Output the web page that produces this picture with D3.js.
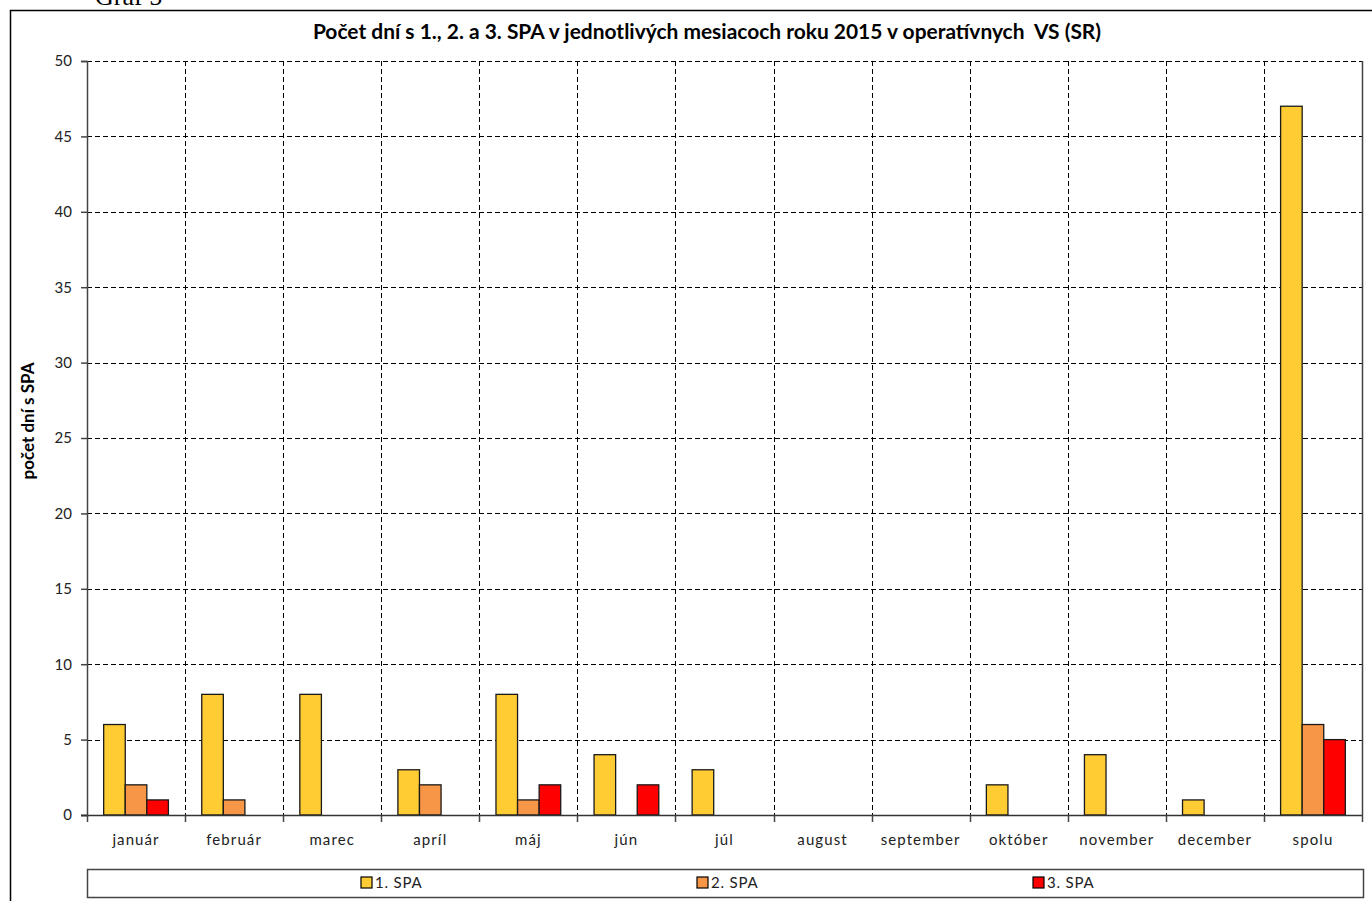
<!DOCTYPE html>
<html>
<head>
<meta charset="utf-8">
<script src="https://cdn.jsdelivr.net/npm/d3@7"></script>
<style>
  body { margin: 0; background: #fff; }
  text { font-family: Lato, "Open Sans", sans-serif; fill: #222; }
</style>
</head>
<body>
<svg id="chart" width="1372" height="901"></svg>
<script>
// data
const months = ['január', 'február', 'marec', 'apríl', 'máj', 'jún', 'júl', 'august',
  'september', 'október', 'november', 'december', 'spolu'];
const seriesNames = ['1. SPA', '2. SPA', '3. SPA'];
const spa1 = [6, 8, 8, 3, 8, 4, 3, 0, 0, 2, 4, 1, 47];
const spa2 = [2, 1, 0, 2, 1, 0, 0, 0, 0, 0, 0, 0, 6];
const spa3 = [1, 0, 0, 0, 2, 2, 0, 0, 0, 0, 0, 0, 5];
const yTicks = [0, 5, 10, 15, 20, 25, 30, 35, 40, 45, 50];
const colors = ['#FFCC33', '#F79646', '#FF0000'];

const svg = d3.select('#chart');
const plot = { left: 87, right: 1362, top: 61, bottom: 815 };

// grow a text's font size until it spans the wanted width
function fitWidth(sel, target) {
  const node = sel.node();
  const fs = parseFloat(sel.style('font-size'));
  const w = node.getComputedTextLength();
  sel.style('font-size', (fs * target / w) + 'px');
}

// outer frame of the chart object
svg.append('rect')
  .attr('x', 10.5).attr('y', 10.5)
  .attr('width', 1400).attr('height', 1000)
  .attr('fill', 'none').attr('stroke', '#000').attr('stroke-width', 1.5);

// caption above the frame, cut off by the page edge (as in the original)
svg.append('text')
  .attr('x', 95).attr('y', 5)
  .style('font-family', '"Liberation Serif", serif')
  .style('font-size', '26px')
  .style('fill', '#000')
  .text('Graf 5');

const x0 = d3.scaleBand()
  .domain(months)
  .range([plot.left, plot.right])
  .paddingInner(0.34)
  .paddingOuter(0.17);

const x1 = d3.scaleBand()
  .domain(d3.range(seriesNames.length))
  .range([0, x0.bandwidth()]);

const y = d3.scaleLinear()
  .domain([0, 50])
  .range([plot.bottom, plot.top]);

const step = (plot.right - plot.left) / months.length;

// horizontal grid
svg.append('g')
  .selectAll('line')
  .data(yTicks.filter(d => d > 0))
  .join('line')
  .attr('x1', plot.left).attr('x2', plot.right)
  .attr('y1', d => Math.round(y(d)) + 0.5).attr('y2', d => Math.round(y(d)) + 0.5)
  .attr('stroke', '#000').attr('stroke-dasharray', '5,3');

// vertical grid at category boundaries
svg.append('g')
  .selectAll('line')
  .data(d3.range(1, months.length))
  .join('line')
  .attr('x1', i => Math.round(plot.left + i * step) + 0.5)
  .attr('x2', i => Math.round(plot.left + i * step) + 0.5)
  .attr('y1', plot.top).attr('y2', plot.bottom)
  .attr('stroke', '#000').attr('stroke-dasharray', '5,3');

// right edge of plot area
svg.append('line')
  .attr('x1', plot.right + 0.5).attr('x2', plot.right + 0.5)
  .attr('y1', plot.top).attr('y2', plot.bottom)
  .attr('stroke', '#444').attr('stroke-width', 1.5);

// bars
const series = [spa1, spa2, spa3];
const rows = [];
series.forEach((vals, s) => vals.forEach((v, i) => {
  if (v > 0) rows.push({ month: months[i], s, v });
}));

svg.append('g')
  .selectAll('rect')
  .data(rows)
  .join('rect')
  .attr('x', d => x0(d.month) + x1(d.s))
  .attr('y', d => y(d.v))
  .attr('width', x1.bandwidth())
  .attr('height', d => y(0) - y(d.v))
  .attr('fill', d => colors[d.s])
  .attr('stroke', '#1a1a1a').attr('stroke-width', 1.3);

// y axis
const yAxis = svg.append('g')
  .attr('transform', `translate(${plot.left},0)`)
  .call(d3.axisLeft(y).tickValues(yTicks).tickSize(6).tickPadding(9));
yAxis.select('.domain').attr('stroke', '#444').attr('stroke-width', 1.5);
yAxis.selectAll('.tick line').attr('stroke', '#444').attr('stroke-width', 1.5);
yAxis.selectAll('.tick text')
  .style('font-family', 'Lato, sans-serif').style('font-size', '15px').attr('fill', '#333');

// x axis with ticks at category boundaries
const xAxis = svg.append('g')
  .attr('transform', `translate(0,${plot.bottom})`);
xAxis.append('line')
  .attr('x1', plot.left - 6).attr('x2', plot.right + 1)
  .attr('y1', 0.5).attr('y2', 0.5)
  .attr('stroke', '#333').attr('stroke-width', 1.5);
xAxis.selectAll('.bt')
  .data(d3.range(0, months.length + 1))
  .join('line')
  .attr('class', 'bt')
  .attr('x1', i => Math.round(plot.left + i * step) + 0.5)
  .attr('x2', i => Math.round(plot.left + i * step) + 0.5)
  .attr('y1', 0).attr('y2', 7)
  .attr('stroke', '#444').attr('stroke-width', 1.5);
xAxis.selectAll('.lbl')
  .data(months)
  .join('text')
  .attr('class', 'lbl')
  .attr('x', d => x0(d) + x0.bandwidth() / 2)
  .attr('y', 30)
  .attr('text-anchor', 'middle')
  .style('font-size', '15px')
  .style('letter-spacing', '1.1px')
  .attr('fill', '#333')
  .text(d => d);

// title
const title = svg.append('text')
  .attr('x', 707).attr('y', 39)
  .attr('text-anchor', 'middle')
  .style('font-size', '16px').style('font-weight', 'bold')
  .style('fill', '#000')
  .style('white-space', 'pre')
  .text('Počet dní s 1., 2. a 3. SPA v jednotlivých mesiacoch roku 2015 v operatívnych  VS (SR)');
fitWidth(title, 789);

// y label
const ylab = svg.append('text')
  .attr('transform', 'translate(34,421) rotate(-90)')
  .attr('text-anchor', 'middle')
  .style('font-size', '13px').style('font-weight', 'bold')
  .style('fill', '#000')
  .text('počet dní s SPA');
fitWidth(ylab, 117);

// legend
const lg = svg.append('g');
lg.append('rect')
  .attr('x', 87.5).attr('y', 869.5)
  .attr('width', 1276).attr('height', 28)
  .attr('fill', '#fff').attr('stroke', '#444').attr('stroke-width', 1.5);
const legendX = d3.scalePoint().domain(seriesNames).range([361, 1033]);
const item = lg.selectAll('.item')
  .data(seriesNames)
  .join('g')
  .attr('class', 'item')
  .attr('transform', d => `translate(${legendX(d)},877)`);
item.append('rect')
  .attr('width', 11).attr('height', 11)
  .attr('fill', (d, i) => colors[i])
  .attr('stroke', '#000').attr('stroke-width', 1.2);
item.append('text')
  .attr('x', 14).attr('y', 11)
  .style('font-size', '15px')
  .style('letter-spacing', '0.8px')
  .attr('fill', '#333')
  .text(d => d);
</script>
</body>
</html>
